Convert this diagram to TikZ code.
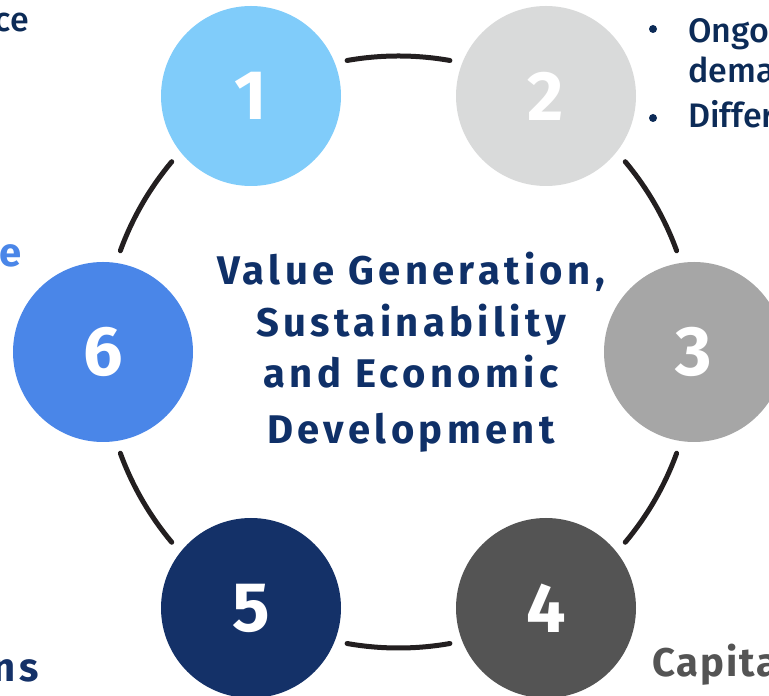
\documentclass[tikz,border=0pt]{standalone}
\usepackage{fontspec}
\usetikzlibrary{calc}
\setmainfont{Fira Sans}
\newfontfamily\headfont[LetterSpace=11]{Fira Sans}
\newfontfamily\capfont[LetterSpace=5]{Fira Sans}
\newfontfamily\medfont{Fira Sans Medium}
\definecolor{cA}{HTML}{80CCFA}
\definecolor{cB}{HTML}{D9DADA}
\definecolor{cC}{HTML}{A6A6A6}
\definecolor{cD}{HTML}{545454}
\definecolor{cE}{HTML}{143168}
\definecolor{cF}{HTML}{4A86E8}
\definecolor{navy}{HTML}{0F3068}
\definecolor{dnavy}{HTML}{0C2B57}
\definecolor{arcc}{HTML}{231F20}
\tikzset{
  num/.style={circle, minimum size=180pt, inner sep=0pt, text=white, font=\fontsize{70}{70}\selectfont\bfseries},
  ring/.style={draw=arcc, line width=5pt, line cap=round},
  head/.style={inner sep=0pt, text=navy, font=\fontsize{40}{44}\headfont\bfseries},
  body/.style={inner sep=0pt, text=dnavy, font=\fontsize{34}{40}\medfont},
  dot/.style={circle, fill=dnavy, inner sep=0pt, minimum size=8pt},
}
\begin{document}
\begin{tikzpicture}[x=1pt,y=1pt]
\useasboundingbox (0,0) rectangle (769,696);
\clip (0,0) rectangle (769,696);
\coordinate (O) at (398.5,344);
\foreach \a in {20,80,140,200,260,320}{
  \draw[ring] ($(O)+(\a:296)$) arc[start angle=\a, end angle=\a+20, radius=296];
}
\node[num, fill=cA] (n1) at (251,600) {1};
\node[num, fill=cB] (n2) at (546,600) {2};
\node[num, fill=cC] (n3) at (694,344) {3};
\node[num, fill=cD] (n4) at (546,88) {4};
\node[num, fill=cE] (n5) at (251,88) {5};
\node[num, fill=cF] (n6) at (103,344) {6};
\node[head, anchor=base] (t1) at (411,411) {Value Generation,};
\node[head, anchor=base] (t2) at (411,359) {Sustainability};
\node[head, anchor=base] (t3) at (411,308) {and Economic};
\node[head, anchor=base] (t4) at (411,252) {Development};
\node[body, anchor=base east] (lA) at (29,664) {ce};
\node[head, text=cF, anchor=base east] (lB) at (22,429) {e};
\node[head, text=cE, anchor=base east] (lC) at (39,14) {ns};
\node[head, text=cD, font=\fontsize{40}{44}\capfont\bfseries, anchor=base west] (lD) at (652,19) {Capital};
\node[dot] (b1) at (653,667) {};
\node[dot] (b2) at (653,578) {};
\node[body, anchor=base west] (r1) at (688,653) {Ongoing};
\node[body, anchor=base west] (r2) at (688,613) {demand};
\node[body, anchor=base west] (r3) at (688,568) {Different};
\end{tikzpicture}
\end{document}
